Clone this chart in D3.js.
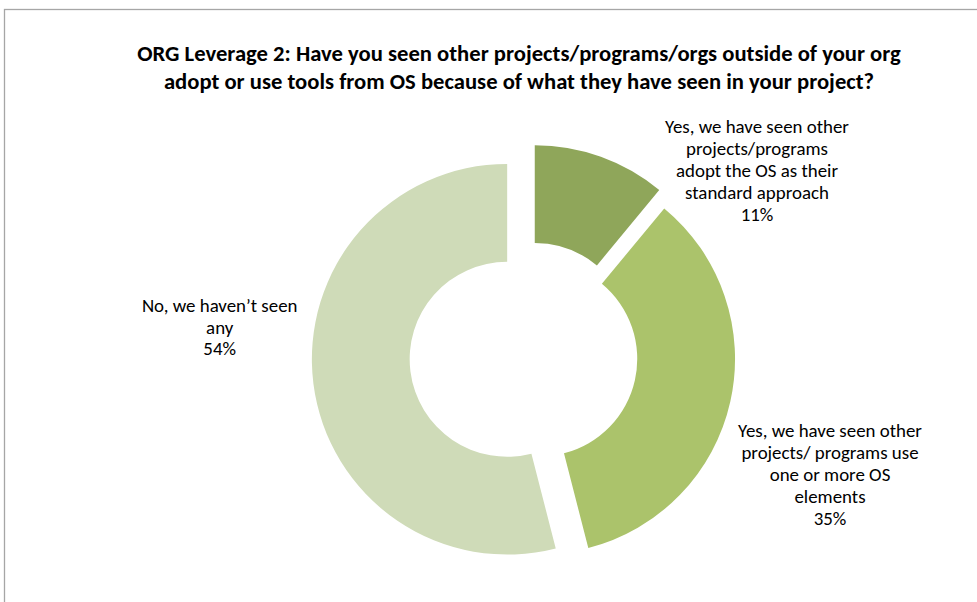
<!DOCTYPE html>
<html>
<head>
<meta charset="utf-8">
<script src="https://cdn.jsdelivr.net/npm/d3@7"></script>
<style>
  html, body { margin: 0; padding: 0; background: #fff; }
  svg { display: block; }
  text { font-family: Carlito, Lato, "Open Sans", sans-serif; fill: #000; }
</style>
</head>
<body>
<svg id="chart" width="977" height="602"></svg>
<script>
// Survey answers, clockwise from 12 o'clock
const categories = [
  "Yes, we have seen other\nprojects/programs\nadopt the OS as their\nstandard approach",
  "Yes, we have seen other\nprojects/ programs use\none or more OS\nelements",
  "No, we haven\u2019t seen\nany"
];
const shares = [11, 35, 54];
const percentLabels = ["11%", "35%", "54%"];
const sliceColors = ["#8FA65A", "#ABC36B", "#CFDBB8"];

const titleLines = [
  "ORG Leverage 2: Have you seen other projects/programs/orgs outside of your org",
  "adopt or use tools from OS because of what they have seen in your project?"
];

// Layout
const W = 977, H = 602;
const center = { x: 529, y: 356.5 };
const outerR = 195.3, innerR = 97.5;
const explode = [17, 11, 22];          // radial pull-out of each slice, px
const labelAnchors = [                  // centre x / first baseline of each label block
  { x: 757, y: 133, lineH: 22, fitWidth: 184 },
  { x: 830, y: 437, lineH: 22, fitWidth: 184 },
  { x: 219.7, y: 312, lineH: 21.6, fitWidth: 154 }
];

const svg = d3.select("#chart");

// chart-area frame
svg.append("rect")
  .attr("x", 4.5).attr("y", 9.5)
  .attr("width", 1000).attr("height", 700)
  .attr("fill", "none")
  .attr("stroke", "#A6A6A6")
  .attr("stroke-width", 1.3);

// Fit a text element's font size so a given line spans a target width
function fitFont(sel, base, target) {
  sel.attr("font-size", base);
  const w = sel.node().getComputedTextLength();
  sel.attr("font-size", base * target / w);
}

// Title
const titleG = svg.append("g");
const tl1 = titleG.append("text")
  .attr("x", 519).attr("y", 61)
  .attr("text-anchor", "middle")
  .attr("font-weight", "bold")
  .text(titleLines[0]);
fitFont(tl1, 19, 764);
const titleSize = +tl1.attr("font-size");
titleG.append("text")
  .attr("x", 519).attr("y", 89)
  .attr("text-anchor", "middle")
  .attr("font-weight", "bold")
  .attr("font-size", titleSize)
  .text(titleLines[1]);

// Donut
const pie = d3.pie().sort(null).value(d => d).startAngle(0).endAngle(2 * Math.PI);
const arcs = pie(shares);
const arc = d3.arc().innerRadius(innerR).outerRadius(outerR);

svg.append("g")
  .attr("transform", `translate(${center.x},${center.y})`)
  .selectAll("path")
  .data(arcs)
  .join("path")
  .attr("d", arc)
  .attr("fill", (d, i) => sliceColors[i])
  .attr("transform", (d, i) => {
    const mid = (d.startAngle + d.endAngle) / 2;
    return `translate(${explode[i] * Math.sin(mid)},${-explode[i] * Math.cos(mid)})`;
  });

// Data labels
let labelSize = null;
categories.forEach((cat, i) => {
  const a = labelAnchors[i];
  const lines = cat.split("\n").concat([percentLabels[i]]);
  const t = svg.append("text")
    .attr("text-anchor", "middle");
  lines.forEach((ln, k) => {
    t.append("tspan")
      .attr("x", a.x)
      .attr("y", a.y + k * a.lineH)
      .text(ln);
  });
  if (labelSize === null) {
    const probe = svg.append("text").text(lines[0]);
    fitFont(probe, 16, a.fitWidth);
    labelSize = +probe.attr("font-size");
    probe.remove();
  }
  t.attr("font-size", labelSize);
});
</script>
</body>
</html>
